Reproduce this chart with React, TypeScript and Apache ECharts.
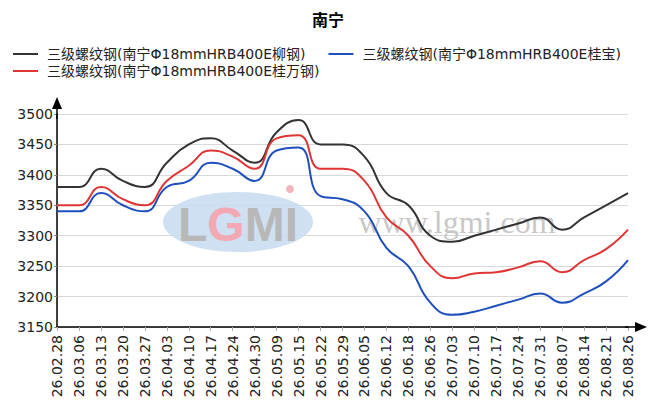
import React, { useEffect, useRef } from "react";
import * as echarts from "echarts";

const dates = [
  "26.02.28", "26.03.06", "26.03.13", "26.03.20", "26.03.27", "26.04.03", "26.04.10",
  "26.04.17", "26.04.24", "26.04.30", "26.05.09", "26.05.15", "26.05.22", "26.05.29",
  "26.06.05", "26.06.12", "26.06.18", "26.06.26", "26.07.03", "26.07.10", "26.07.17",
  "26.07.24", "26.07.31", "26.08.07", "26.08.14", "26.08.21", "26.08.26",
];

const seriesNames = [
  "三级螺纹钢(南宁Φ18mmHRB400E柳钢)",
  "三级螺纹钢(南宁Φ18mmHRB400E桂宝)",
  "三级螺纹钢(南宁Φ18mmHRB400E桂万钢)",
];

const liugang = [3380, 3380, 3410, 3390, 3380, 3420, 3450, 3460, 3440, 3420, 3470, 3490, 3450, 3450, 3430, 3370, 3350, 3300, 3290, 3300, 3310, 3320, 3330, 3310, 3330, 3350, 3370];
const guibao = [3340, 3340, 3370, 3350, 3340, 3380, 3390, 3420, 3410, 3390, 3440, 3445, 3365, 3360, 3340, 3280, 3250, 3190, 3170, 3175, 3185, 3195, 3205, 3190, 3205, 3225, 3260];
const guiwan = [3350, 3350, 3380, 3360, 3350, 3390, 3415, 3440, 3430, 3410, 3460, 3465, 3410, 3410, 3390, 3330, 3300, 3250, 3230, 3238, 3240, 3248, 3258, 3240, 3260, 3278, 3310];

const yMin = 3150;
const yMax = 3500;
const yStep = 50;

const colors = ["#333333", "#1f4fbd", "#e03535"];
const FONT = "'DejaVu Sans', 'Noto Sans CJK SC', sans-serif";
const ARROW = "path://M5,0 L10,12 L5.75,12 L5.75,22 L4.25,22 L4.25,12 L0,12 Z";

export default function App() {
  const ref = useRef<HTMLDivElement>(null);

  useEffect(() => {
    document.body.style.margin = "0";
    if (!ref.current) return;
    const chart = echarts.init(ref.current, null, { renderer: "svg" });
    const legendCommon = {
      icon: "rect",
      itemWidth: 25,
      itemHeight: 2,
      itemGap: 23,
      padding: 0,
      textStyle: { fontSize: 14, color: "#222", fontFamily: FONT, padding: [0, 0, 0, 4] },
    };
    chart.setOption({
      animation: false,
      backgroundColor: "#fff",
      color: colors,
      title: {
        text: "南宁",
        left: "center",
        top: 7,
        textStyle: { fontSize: 16, fontWeight: "bold", color: "#000", fontFamily: FONT },
      },
      legend: [
        { ...legendCommon, left: 13, top: 47, data: [seriesNames[0], seriesNames[1]] },
        { ...legendCommon, left: 13, top: 64, data: [seriesNames[2]] },
      ],
      graphic: [
        {
          type: "ellipse",
          shape: { cx: 238, cy: 222, rx: 75, ry: 30 },
          style: { fill: "#c6daf0", opacity: 0.85 },
          z: 1,
          silent: true,
        },
        {
          type: "circle",
          shape: { cx: 290, cy: 189, r: 4 },
          style: { fill: "#f3b5bd" },
          z: 1,
          silent: true,
        },
        {
          type: "text",
          x: 238,
          y: 224,
          z: 1,
          silent: true,
          style: {
            text: "{a|L}{b|G}{a|MI}",
            align: "center",
            verticalAlign: "middle",
            rich: {
              a: { fontSize: 48, fontWeight: "bold", fill: "#b8b8b8", fontFamily: "'Liberation Sans', Arial, sans-serif" },
              b: { fontSize: 48, fontWeight: "bold", fill: "#f2a9b3", fontFamily: "'Liberation Sans', Arial, sans-serif" },
            },
          },
        },
        {
          type: "text",
          x: 457,
          y: 222,
          z: 1,
          silent: true,
          style: {
            text: "www.lgmi.com",
            align: "center",
            verticalAlign: "middle",
            fontSize: 32,
            fontFamily: "'Liberation Serif', 'DejaVu Serif', serif",
            fill: "#c8c8c8",
          },
        },
      ],
      grid: { left: 57, right: 28, top: 114, bottom: 80, containLabel: false },
      xAxis: {
        type: "category",
        data: dates,
        boundaryGap: false,
        axisLine: {
          show: true,
          lineStyle: { color: "#000", width: 1.5 },
          symbol: ["none", ARROW],
          symbolSize: [11, 22],
          symbolOffset: [0, 8],
        },
        axisTick: { show: true, length: 4, lineStyle: { color: "#aaa" } },
        axisLabel: { rotate: 90, fontSize: 14, color: "#222", fontFamily: FONT, margin: 8, interval: 0 },
        splitLine: { show: false },
      },
      yAxis: {
        type: "value",
        min: yMin,
        max: yMax,
        interval: yStep,
        axisLine: {
          show: true,
          lineStyle: { color: "#000", width: 1.5 },
          symbol: ["none", ARROW],
          symbolSize: [11, 22],
          symbolOffset: [0, 6],
        },
        axisTick: { show: true, length: 3, lineStyle: { color: "#888" } },
        axisLabel: {
          fontSize: 14,
          color: "#222",
          fontFamily: FONT,
          margin: 4,
          formatter: (v: number) => String(v),
        },
        splitLine: { show: true, lineStyle: { color: "#d9d9d9", width: 1 } },
      },
      series: [
        { name: seriesNames[0], type: "line", data: liugang, smooth: true, showSymbol: false, lineStyle: { width: 2, color: colors[0] }, z: 3 },
        { name: seriesNames[1], type: "line", data: guibao, smooth: true, showSymbol: false, lineStyle: { width: 2, color: colors[1] }, z: 3 },
        { name: seriesNames[2], type: "line", data: guiwan, smooth: true, showSymbol: false, lineStyle: { width: 2, color: colors[2] }, z: 3 },
      ],
    });
    return () => chart.dispose();
  }, []);

  return <div ref={ref} style={{ width: 656, height: 407 }} />;
}
